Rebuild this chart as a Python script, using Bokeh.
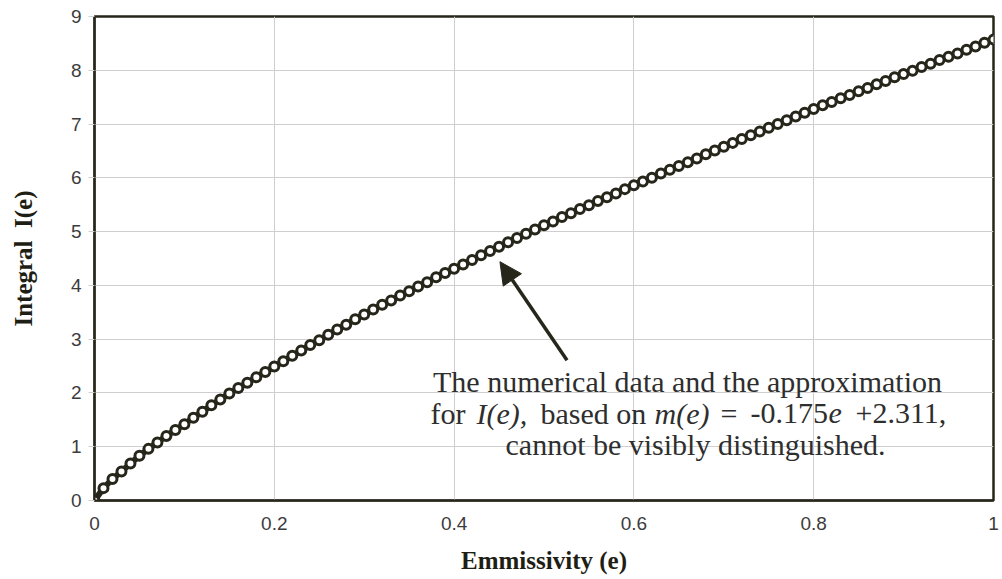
from bokeh.plotting import figure
from bokeh.models import Range1d, FixedTicker, Label, Arrow, NormalHead
from bokeh.embed import file_html
from bokeh.resources import INLINE

# ---- data ----
emissivity = [0.00, 0.01, 0.02, 0.03, 0.04, 0.05, 0.06, 0.07, 0.08, 0.09,
              0.10, 0.11, 0.12, 0.13, 0.14, 0.15, 0.16, 0.17, 0.18, 0.19,
              0.20, 0.21, 0.22, 0.23, 0.24, 0.25, 0.26, 0.27, 0.28, 0.29,
              0.30, 0.31, 0.32, 0.33, 0.34, 0.35, 0.36, 0.37, 0.38, 0.39,
              0.40, 0.41, 0.42, 0.43, 0.44, 0.45, 0.46, 0.47, 0.48, 0.49,
              0.50, 0.51, 0.52, 0.53, 0.54, 0.55, 0.56, 0.57, 0.58, 0.59,
              0.60, 0.61, 0.62, 0.63, 0.64, 0.65, 0.66, 0.67, 0.68, 0.69,
              0.70, 0.71, 0.72, 0.73, 0.74, 0.75, 0.76, 0.77, 0.78, 0.79,
              0.80, 0.81, 0.82, 0.83, 0.84, 0.85, 0.86, 0.87, 0.88, 0.89,
              0.90, 0.91, 0.92, 0.93, 0.94, 0.95, 0.96, 0.97, 0.98, 0.99,
              1.00]
integral_numeric = [0.00, 0.23, 0.40, 0.54, 0.69, 0.83, 0.96, 1.08, 1.20, 1.31,
                    1.42, 1.54, 1.65, 1.77, 1.88, 1.99, 2.09, 2.19, 2.29, 2.39,
                    2.49, 2.59, 2.69, 2.79, 2.89, 2.98, 3.08, 3.18, 3.27, 3.37,
                    3.46, 3.55, 3.64, 3.72, 3.81, 3.89, 3.98, 4.06, 4.15, 4.23,
                    4.31, 4.39, 4.47, 4.56, 4.64, 4.72, 4.80, 4.88, 4.96, 5.04,
                    5.12, 5.19, 5.27, 5.34, 5.42, 5.49, 5.57, 5.64, 5.71, 5.79,
                    5.86, 5.93, 6.00, 6.08, 6.15, 6.22, 6.29, 6.36, 6.44, 6.51,
                    6.58, 6.65, 6.72, 6.79, 6.86, 6.93, 7.00, 7.07, 7.14, 7.21,
                    7.28, 7.35, 7.41, 7.48, 7.54, 7.61, 7.67, 7.74, 7.80, 7.87,
                    7.93, 7.99, 8.06, 8.12, 8.19, 8.25, 8.31, 8.38, 8.44, 8.51,
                    8.57]
integral_approx = list(integral_numeric)  # visually indistinguishable in the source

x_ticks = [0, 0.2, 0.4, 0.6, 0.8, 1.0]
x_tick_labels = ["0", "0.2", "0.4", "0.6", "0.8", "1"]
y_ticks = [0, 1, 2, 3, 4, 5, 6, 7, 8, 9]
y_tick_labels = ["0", "1", "2", "3", "4", "5", "6", "7", "8", "9"]

DARK = "#26261a"
GRID = "#cfcfcf"
TICKTXT = "#3c3c3c"
SERIF = "Liberation Serif"
SANS = "Liberation Sans"

p = figure(width=1000, height=578, output_backend="svg", toolbar_location=None,
           x_range=Range1d(0, 1), y_range=Range1d(0, 9))
p.min_border_left = 94
p.min_border_right = 7
p.min_border_top = 16
p.min_border_bottom = 78
p.background_fill_color = "white"
p.border_fill_color = "white"
p.outline_line_color = DARK
p.outline_line_width = 2.5

p.xgrid.grid_line_color = GRID
p.ygrid.grid_line_color = GRID
p.xgrid.grid_line_width = 1
p.ygrid.grid_line_width = 1

p.xaxis.ticker = FixedTicker(ticks=x_ticks)
p.yaxis.ticker = FixedTicker(ticks=y_ticks)
p.xaxis.major_label_overrides = {t: l for t, l in zip(x_ticks, x_tick_labels)}
p.yaxis.major_label_overrides = {t: l for t, l in zip(y_ticks, y_tick_labels)}

for ax in (p.xaxis[0], p.yaxis[0]):
    ax.axis_line_color = DARK
    ax.axis_line_width = 2
    ax.minor_tick_line_color = None
    ax.major_label_text_font = SANS
    ax.major_label_text_font_size = "19px"
    ax.major_label_text_color = TICKTXT
    ax.axis_label_text_font = SERIF
    ax.axis_label_text_font_style = "bold"
    ax.axis_label_text_font_size = "25px"
    ax.axis_label_text_color = "#1e1e14"

p.xaxis.major_tick_out = 0
p.xaxis.major_tick_in = 0
p.xaxis.major_label_standoff = 16
p.xaxis.axis_label = "Emmissivity (e)"
p.xaxis.axis_label_standoff = 14

p.yaxis.major_tick_out = 6
p.yaxis.major_tick_in = 0
p.yaxis.major_tick_line_color = GRID
p.yaxis.major_label_standoff = 7
p.yaxis.axis_label = "Integral\u00a0 I(e)"
p.yaxis.axis_label_standoff = 31

# approximation (line) and numerical data (markers)
p.line(emissivity, integral_approx, line_color=DARK, line_width=6)
p.scatter(emissivity, integral_numeric, marker="circle", size=9,
          fill_color="white", line_color=DARK, line_width=3)

# arrow pointing to the curve
p.add_layout(Arrow(end=NormalHead(size=22, fill_color=DARK, line_color=DARK),
                   x_start=0.5256, y_start=2.61, x_end=0.451, y_end=4.44,
                   line_color=DARK, line_width=3.5))

TXT = "#2e2e2e"
FS = "30px"

def lab(x, y, text, style="normal", align="left"):
    p.add_layout(Label(x=x, y=y, text=text, text_font=SERIF, text_font_size=FS,
                       text_font_style=style, text_color=TXT, text_align=align,
                       text_baseline="alphabetic"))

lab(0.6596, 2.217, "The numerical data and the approximation", align="center")
lab(0.3737, 1.621, "for")
lab(0.4249, 1.621, "I(e),", "italic")
lab(0.4961, 1.621, "based on")
lab(0.6229, 1.621, "m(e)", "italic")
lab(0.6963, 1.621, "=")
lab(0.7297, 1.621, "-0.175")
lab(0.8165, 1.621, "e", "italic")
lab(0.8465, 1.621, "+2.311,")
lab(0.6685, 1.036, "cannot be visibly distinguished.", align="center")

open("out.html", "w").write(file_html(p, INLINE))
